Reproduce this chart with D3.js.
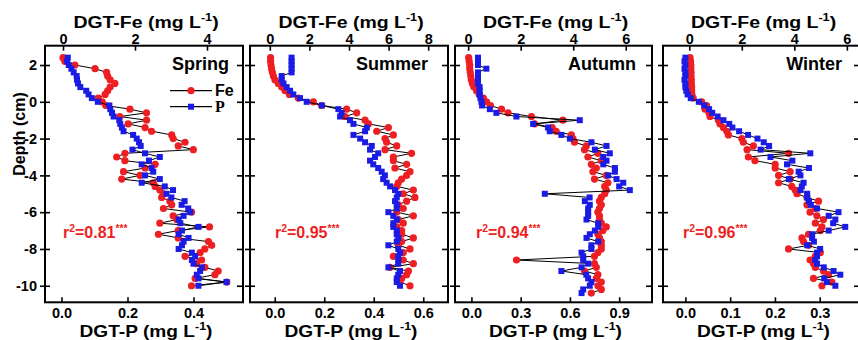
<!DOCTYPE html>
<html><head><meta charset="utf-8">
<script src="https://cdn.jsdelivr.net/npm/d3@7"></script>
<style>body{margin:0;background:#fff}svg{display:block}</style>
</head><body><svg id="c" width="858" height="340"></svg>
<script>
const seasons = ["Spring","Summer","Autumn","Winter"];
const r2Values = ["0.81","0.95","0.94","0.96"];
const depthA = [2.4,2.2,2,1.8,1.6,1.4,1.2,1,0.8,0.6,0.4,0.2,0,-0.2,-0.4,-0.6,-0.8,-1,-1.2,-1.4,-1.6,-1.8,-2,-2.2,-2.4,-2.6,-2.8,-3,-3.2,-3.4,-3.6,-3.8,-4,-4.2,-4.4,-4.6,-4.8,-5,-5.2,-5.4,-5.6,-5.8,-6,-6.2,-6.4,-6.6,-6.8,-7,-7.2,-7.4,-7.6,-7.8,-8,-8.2,-8.4,-8.6,-8.8,-9,-9.2,-9.4,-9.6,-9.8,-10];
const depthB = [2.4,2.2,2,1.8,1.6,1.4,1.2,1,0.8,0.6,0.4,0.2,0,-0.2,-0.4,-0.6,-0.8,-1,-1.2,-1.4,-1.6,-1.8,-2,-2.2,-2.4,-2.6,-2.8,-3,-3.2,-3.4,-3.6,-3.8,-4,-4.2,-4.4,-4.6,-4.8,-5,-5.2,-5.4,-5.6,-5.8,-6,-6.2,-6.4,-6.6,-6.8,-7,-7.2,-7.4,-7.6,-7.8,-8,-8.2,-8.4,-8.6,-8.8,-9,-9.2,-9.4,-9.6,-9.8,-10,-10.2,-10.4];

const springFe = [0.0,0.05,0.33,0.89,1.21,1.24,1.31,1.44,1.31,1.24,1.17,0.98,1.09,1.19,1.86,2.32,1.58,2.32,1.81,2.28,2.46,3.02,3.06,3.39,3.2,3.62,1.72,1.49,1.72,2.56,2.28,1.68,2.14,1.63,2.51,2.56,2.69,2.79,2.74,2.97,3.02,2.79,3.57,3.06,3.16,2.69,4.07,3.2,2.65,3.2,4.04,4.13,3.94,3.81,3.39,3.85,3.71,3.94,4.31,4.22,3.67,4.55,3.57];
const springP = [0.019,0.017,0.022,0.03,0.037,0.046,0.047,0.05,0.057,0.075,0.082,0.092,0.11,0.145,0.148,0.153,0.158,0.175,0.178,0.183,0.188,0.217,0.228,0.235,0.24,0.215,0.253,0.298,0.265,0.243,0.273,0.278,0.253,0.298,0.243,0.313,0.338,0.318,0.333,0.373,0.364,0.384,0.39,0.37,0.355,0.36,0.415,0.365,0.355,0.385,0.37,0.365,0.355,0.395,0.405,0.395,0.4,0.425,0.42,0.41,0.415,0.5,0.415];
const summerFe = [0.04,0.04,0.06,0.09,0.13,0.18,0.26,0.43,0.6,0.77,0.99,1.44,2.2,2.62,3.88,4.39,3.8,4.81,4.98,5.99,5.4,6.24,5.82,5.9,6.41,5.82,7.16,6.24,6.24,6.91,6.32,7.08,6.91,6.66,6.49,6.41,7.25,6.74,7.33,6.91,6.49,6.74,6.41,7.25,6.49,6.74,6.41,6.66,6.66,7.25,6.66,6.49,7.08,6.74,6.24,6.74,7.25,6.07,7.0,6.91,6.66,6.58,7.08];
const summerP = [0.068,0.068,0.068,0.068,0.068,0.028,0.028,0.035,0.048,0.062,0.075,0.102,0.129,0.19,0.257,0.27,0.264,0.304,0.318,0.372,0.365,0.318,0.345,0.365,0.392,0.385,0.418,0.405,0.385,0.398,0.418,0.432,0.445,0.438,0.452,0.466,0.486,0.499,0.493,0.486,0.493,0.493,0.459,0.479,0.493,0.479,0.479,0.493,0.493,0.499,0.493,0.459,0.499,0.506,0.499,0.499,0.499,0.459,0.506,0.499,0.493,0.493,0.506];
const autumnFe = [0.02,0.04,0.06,0.06,0.08,0.1,0.12,0.16,0.22,0.32,0.42,0.58,0.7,0.85,1.27,1.52,2.41,3.61,2.53,3.2,3.35,3.93,3.99,4.05,4.5,4.43,4.94,4.56,5.07,4.69,4.88,4.75,5.26,4.81,5.32,5.2,5.26,5.2,5.07,5.0,5.07,5.0,4.94,5.0,5.0,5.07,5.26,5.13,4.94,5.0,5.07,5.07,5.07,4.94,4.81,1.84,4.81,4.88,4.43,4.94,4.88,5.07,4.94,5.07,4.69];
const autumnP = [0.04,0.04,0.04,0.091,0.04,0.04,0.04,0.04,0.05,0.05,0.05,0.055,0.061,0.065,0.112,0.152,0.274,0.66,0.376,0.467,0.477,0.548,0.6,0.731,0.823,0.752,0.843,0.803,0.823,0.803,0.874,0.874,0.833,0.884,0.925,0.9,0.965,0.447,0.72,0.691,0.721,0.711,0.711,0.711,0.701,0.772,0.772,0.752,0.721,0.701,0.772,0.731,0.731,0.671,0.681,0.681,0.711,0.671,0.548,0.7,0.711,0.731,0.721,0.681,0.671];
const winterFe = [0.03,0.05,0.06,0.06,0.07,0.07,0.08,0.08,0.09,0.09,0.1,0.15,0.47,0.66,0.6,0.75,0.79,1.11,1.17,1.3,1.43,1.49,2.0,2.06,2.44,2.2,3.78,2.25,2.5,3.27,3.27,3.84,3.4,3.84,3.4,3.9,4.03,4.1,4.48,4.92,4.48,4.8,4.6,4.86,5.11,4.8,5.05,4.99,4.54,4.29,4.35,4.54,3.78,4.99,4.8,4.6,4.73,4.8,5.11,5.3,4.73,5.43,5.05];
const winterP = [0.0,-0.002,0.0,-0.002,0.0,0.0,-0.002,0.0,0.0,0.002,0.005,0.012,0.03,0.042,0.053,0.06,0.072,0.085,0.098,0.105,0.12,0.14,0.161,0.175,0.187,0.168,0.279,0.19,0.239,0.227,0.276,0.253,0.257,0.231,0.264,0.26,0.257,0.272,0.272,0.276,0.28,0.294,0.342,0.32,0.335,0.33,0.357,0.32,0.283,0.283,0.287,0.272,0.301,0.294,0.294,0.29,0.294,0.309,0.331,0.346,0.31,0.316,0.335];

const depthTicks = [2,0,-2,-4,-6,-8,-10];
const feTicks = [[0,2,4],[0,2,4,6,8],[0,2,4,6],[0,2,4,6]];
const pTicks = [[0,0.2,0.4],[0,0.2,0.4,0.6],[0,0.3,0.6,0.9],[0,0.1,0.2,0.3]];

const depths = [depthA, depthA, depthB, depthA];
const feSeries = [springFe, summerFe, autumnFe, winterFe];
const pSeries = [springP, summerP, autumnP, winterP];

// layout
const frames = [[45,243],[250,448],[455,652],[663,860]];
const feDomains = [[-0.5,5],[-1,9],[-0.5,7],[-1,6.5]];
const pDomains = [[-0.05,0.55],[-0.1,0.7],[-0.1,1.1],[-0.05,0.39]];
const seasonRight = [229,428,636,842];
const r2Left = [63,275,476,683];
const yTop = 45.7, yBot = 302.3;
const RED = "#ee1f23", BLUE = "#1b1be6";
const FONT = "'Liberation Sans', Arial, sans-serif";

const svg = d3.select("#c");
const y = d3.scaleLinear().domain([-10.9, 3.05]).range([yBot, yTop]);

function supText(g, x, yy, parts, anchor, size, color, sx) {
  const t = g.append("text").attr("text-anchor", anchor)
    .attr("transform", `translate(${x},${yy}) scale(${sx || 1},1)`)
    .attr("font-family", FONT).attr("font-weight", "bold").attr("font-size", size).attr("fill", color);
  let up = false;
  parts.forEach(p => {
    const ts = t.append("tspan").text(p.t);
    if (p.sup && !up) { ts.attr("dy", -size*0.38).attr("font-size", size*0.65); up = true; }
    else if (!p.sup && up) { ts.attr("dy", size*0.38); up = false; }
    else if (p.sup) ts.attr("font-size", size*0.65);
  });
  return t;
}

frames.forEach((fr, k) => {
  const [x0, x1] = fr;
  const g = svg.append("g");
  const xFe = d3.scaleLinear().domain(feDomains[k]).range([x0, x1]);
  const xP = d3.scaleLinear().domain(pDomains[k]).range([x0, x1]);

  const styleAxis = sel => {
    sel.select(".domain").remove();
    sel.selectAll(".tick line").attr("stroke", "#000").attr("stroke-width", 1.6);
    sel.selectAll(".tick text").attr("font-family", FONT).attr("font-weight", "bold")
      .attr("font-size", 14.5).attr("fill", "#000");
  };

  // top axis (Fe)
  g.append("g").attr("transform", `translate(0,${yTop})`)
    .call(d3.axisBottom(xFe).tickValues(feTicks[k]).tickSize(5).tickFormat(""))
    .call(styleAxis);
  g.append("g").attr("transform", `translate(0,${yTop + 1})`)
    .call(d3.axisTop(xFe).tickValues(feTicks[k]).tickSize(0).tickPadding(3).tickFormat(d3.format("d")))
    .call(styleAxis);
  // bottom axis (P)
  g.append("g").attr("transform", `translate(0,${yBot})`)
    .call(d3.axisTop(xP).tickValues(pTicks[k]).tickSize(5).tickFormat(""))
    .call(styleAxis);
  g.append("g").attr("transform", `translate(0,${yBot})`)
    .call(d3.axisBottom(xP).tickValues(pTicks[k]).tickSize(0).tickPadding(5).tickFormat(d3.format(".1f")))
    .call(styleAxis);
  // left / right ticks (crossing)
  g.append("g").attr("transform", `translate(${x0},0)`)
    .call(d3.axisLeft(y).tickValues(depthTicks).tickSize(5).tickPadding(3)
      .tickFormat(k === 0 ? (d => String(d)) : ""))
    .call(styleAxis);
  g.append("g").attr("transform", `translate(${x0},0)`)
    .call(d3.axisRight(y).tickValues(depthTicks).tickSize(5).tickFormat(""))
    .call(styleAxis);
  g.append("g").attr("transform", `translate(${x1},0)`)
    .call(d3.axisLeft(y).tickValues(depthTicks).tickSize(6).tickFormat(""))
    .call(styleAxis);

  // frame
  g.append("rect").attr("x", x0).attr("y", yTop).attr("width", x1 - x0).attr("height", yBot - yTop)
    .attr("fill", "none").attr("stroke", "#000").attr("stroke-width", 2);

  // series
  const dep = depths[k];
  const fe = feSeries[k], p = pSeries[k];
  const lineFe = d3.line().x(d => xFe(d)).y((d, i) => y(dep[i]));
  const lineP = d3.line().x(d => xP(d)).y((d, i) => y(dep[i]));
  g.append("path").attr("d", lineFe(fe)).attr("fill", "none").attr("stroke", "#000").attr("stroke-width", 1);
  g.selectAll(".fe").data(fe).join("circle").attr("class", "fe")
    .attr("cx", d => xFe(d)).attr("cy", (d, i) => y(dep[i])).attr("r", 3.6).attr("fill", RED);
  g.append("path").attr("d", lineP(p)).attr("fill", "none").attr("stroke", "#000").attr("stroke-width", 1);
  g.selectAll(".pp").data(p).join("rect").attr("class", "pp")
    .attr("x", d => xP(d) - 3).attr("y", (d, i) => y(dep[i]) - 3)
    .attr("width", 6).attr("height", 6).attr("fill", BLUE);

  // titles
  const cxT = (x0 + x1) / 2;
  supText(g, cxT + 2, 27.5, [{t:"DGT-Fe (mg L"},{t:"-1",sup:true},{t:")"}], "middle", 16.5, "#000", 1.18);
  supText(g, cxT + 2, 336.5, [{t:"DGT-P (mg L"},{t:"-1",sup:true},{t:")"}], "middle", 16.5, "#000", 1.16);

  g.append("text").attr("x", seasonRight[k]).attr("y", 70).attr("text-anchor", "end")
    .attr("font-family", FONT).attr("font-weight", "bold").attr("font-size", 18).text(seasons[k]);

  supText(g, r2Left[k], 238, [{t:"r"},{t:"2",sup:true},{t:"=" + r2Values[k]},{t:"***",sup:true}], "start", 16, RED);
});

// Depth label
svg.append("text").attr("transform", "translate(25,134) rotate(-90)").attr("text-anchor", "middle")
  .attr("font-family", FONT).attr("font-weight", "bold").attr("font-size", 16).text("Depth (cm)");

// legend in Spring panel
const leg = svg.append("g");
[["Fe", 90.7, "circle"], ["P", 106.7, "rect"]].forEach(([lab, ly, shape]) => {
  leg.append("line").attr("x1", 170).attr("x2", 212).attr("y1", ly).attr("y2", ly).attr("stroke", "#000").attr("stroke-width", 1.2);
  if (shape === "circle") leg.append("circle").attr("cx", 191).attr("cy", ly).attr("r", 3.6).attr("fill", RED);
  else leg.append("rect").attr("x", 188).attr("y", ly - 3).attr("width", 6).attr("height", 6).attr("fill", BLUE);
  leg.append("text").attr("x", 215).attr("y", ly + 5.5)
    .attr("font-family", lab === "P" ? "'Liberation Serif', serif" : FONT)
    .attr("font-weight", "bold").attr("font-size", 16).text(lab);
});
</script></body></html>
